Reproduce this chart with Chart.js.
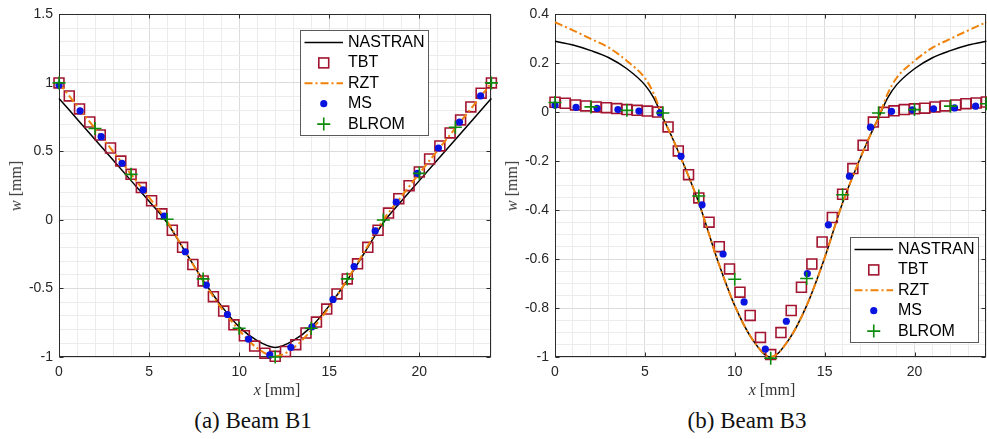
<!DOCTYPE html>
<html>
<head>
<meta charset="utf-8">
<script src="https://cdn.jsdelivr.net/npm/chart.js@4.4.1/dist/chart.umd.min.js"></script>
<style>
  html, body { margin: 0; padding: 0; background: #fff; }
  body { width: 987px; height: 439px; overflow: hidden; position: relative; }
  .plot { position: absolute; top: 0; height: 400px; }
  #wrapB1 { left: 0; width: 500px; }
  #wrapB3 { left: 500px; width: 495px; }
  .lbl { position: absolute; font-family: "Liberation Serif", "Times New Roman", serif; font-size: 16px;
         color: #333; white-space: nowrap; transform: translate(-50%, -50%); }
  .ylbl { transform: translate(-50%, -50%) rotate(-90deg); }
  .cap { position: absolute; font-family: "Liberation Serif", "Times New Roman", serif; font-size: 23px;
         color: #111; white-space: nowrap; transform: translate(-50%, -50%); }
</style>
</head>
<body>
<div class="plot" id="wrapB1"><canvas id="chartB1"></canvas></div>
<div class="plot" id="wrapB3"><canvas id="chartB3"></canvas></div>

<div class="lbl ylbl" style="left:16px; top:186px;"><i>w</i> [mm]</div>
<div class="lbl ylbl" style="left:512px; top:186px;"><i>w</i> [mm]</div>
<div class="lbl" style="left:277px; top:390px;"><i>x</i> [mm]</div>
<div class="lbl" style="left:772px; top:390px;"><i>x</i> [mm]</div>
<div class="cap" style="left:253px; top:421px;">(a) Beam B1</div>
<div class="cap" style="left:747px; top:421px;">(b) Beam B3</div>

<script>
// tick labels
const xMajorTicks = [0, 5, 10, 15, 20];
const b1YTicks = [-1, -0.5, 0, 0.5, 1, 1.5];
const b3YTicks = [-1, -0.8, -0.6, -0.4, -0.2, 0, 0.2, 0.4];

// x positions of each series [mm]
const tbtX = [0, 0.57, 1.14, 1.71, 2.29, 2.86, 3.43, 4.0, 4.57, 5.14, 5.71, 6.29, 6.86, 7.43, 8.0,
  8.57, 9.14, 9.71, 10.29, 10.86, 11.43, 12.0, 12.57, 13.14, 13.71, 14.29, 14.86, 15.43, 16.0,
  16.57, 17.14, 17.71, 18.29, 18.86, 19.43, 20.0, 20.57, 21.14, 21.71, 22.29, 22.86, 23.43, 24.0];
const msX = [0, 1.17, 2.34, 3.5, 4.67, 5.84, 7.01, 8.18, 9.35, 10.52, 11.7, 12.87, 14.04, 15.21,
  16.38, 17.55, 18.72, 19.89, 21.06, 22.23, 23.4];
const blromX = [0, 2, 4, 6, 8, 10, 12, 14, 16, 18, 20, 22, 24];
const b1LineX = [0, 1, 2, 3, 4, 5, 6, 7, 8, 9, 10, 11, 12, 13, 14, 15, 16, 17, 18, 19, 20, 21, 22, 23, 24];
const b3LineX = [0, 1, 2, 3, 4, 5, 5.5, 6, 6.5, 7, 8, 9, 10, 11, 12, 13, 14, 15, 16, 17, 17.5, 18,
  18.5, 19, 20, 21, 22, 23, 24];

// Beam B1, w [mm]
const b1Nastran = [0.887, 0.737, 0.587, 0.437, 0.287, 0.137, -0.02, -0.23, -0.44, -0.625, -0.78, -0.88,
  -0.93, -0.88, -0.78, -0.625, -0.44, -0.23, -0.02, 0.137, 0.287, 0.437, 0.587, 0.737, 0.887];
const b1Tbt = [1.0, 0.905, 0.81, 0.715, 0.62, 0.525, 0.43, 0.333, 0.236, 0.14, 0.045, -0.075, -0.2,
  -0.325, -0.445, -0.56, -0.665, -0.765, -0.845, -0.92, -0.972, -0.995, -0.96, -0.91, -0.825, -0.745,
  -0.65, -0.54, -0.43, -0.32, -0.2, -0.075, 0.05, 0.155, 0.25, 0.35, 0.445, 0.54, 0.635, 0.73, 0.825,
  0.925, 1.0];
const b1Rzt = [1.0, 0.833, 0.667, 0.5, 0.333, 0.165, -0.01, -0.23, -0.445, -0.64, -0.805, -0.935, -0.995,
  -0.935, -0.805, -0.635, -0.435, -0.22, 0.0, 0.17, 0.34, 0.505, 0.67, 0.835, 1.0];
const b1Ms = [0.985, 0.796, 0.608, 0.414, 0.219, 0.029, -0.232, -0.475, -0.69, -0.87, -0.985, -0.93,
  -0.78, -0.58, -0.34, -0.08, 0.13, 0.34, 0.525, 0.715, 0.905];
const b1Blrom = [1.0, 0.667, 0.333, 0.005, -0.43, -0.79, -1.0, -0.79, -0.43, 0.0, 0.34, 0.676, 1.0];

// Beam B3, w [mm]
const b3Nastran = [0.29, 0.275, 0.252, 0.223, 0.178, 0.112, 0.058, -0.022, -0.1, -0.185, -0.37, -0.595,
  -0.79, -0.93, -1.0, -0.93, -0.79, -0.595, -0.37, -0.185, -0.1, -0.022, 0.058, 0.112, 0.178, 0.223,
  0.252, 0.275, 0.29];
const b3Tbt = [0.041, 0.037, 0.03, 0.026, 0.022, 0.019, 0.015, 0.011, 0.008, 0.005, 0.001, -0.06, -0.158,
  -0.255, -0.35, -0.449, -0.549, -0.64, -0.735, -0.83, -0.92, -0.99, -0.9, -0.81, -0.715, -0.62, -0.53,
  -0.43, -0.335, -0.23, -0.135, -0.04, 0.0, 0.006, 0.011, 0.014, 0.017, 0.022, 0.026, 0.03, 0.035,
  0.038, 0.042];
const b3Rzt = [0.368, 0.335, 0.3, 0.264, 0.21, 0.14, 0.075, -0.022, -0.1, -0.185, -0.37, -0.595, -0.79,
  -0.93, -1.0, -0.93, -0.79, -0.595, -0.37, -0.185, -0.1, -0.022, 0.075, 0.14, 0.21, 0.264, 0.3, 0.335,
  0.368];
const b3Ms = [0.029, 0.02, 0.016, 0.011, 0.005, -0.002, -0.18, -0.378, -0.579, -0.775, -0.968, -0.854,
  -0.659, -0.46, -0.261, -0.061, 0.004, 0.01, 0.014, 0.018, 0.025];
const b3Blrom = [0.04, 0.022, 0.008, -0.003, -0.342, -0.682, -1.005, -0.679, -0.337, -0.003, 0.011,
  0.025, 0.035];

const red = '#A2142F';
const orange = '#F0820A';
const blue = '#0a14e0';
const green = '#0b8a0b';
const axisColor = '#2b2b2b';
const tickColor = '#262626';
const majorGrid = '#dcdcdc';
const minorGrid = '#ececec';
const tickFont = { family: '"Liberation Sans", Arial, Helvetica, sans-serif', size: 14 };

function pts(xs, ys) {
  return xs.map((x, i) => ({ x: x, y: ys[i] }));
}

function isMajor(v, list) {
  return list.some(t => Math.abs(t - v) < 1e-6);
}

function fmt(v) {
  return String(Math.round(v * 10) / 10);
}

function makeDatasets(lineX, nastran, rzt, tbt, ms, blrom) {
  return [
    { label: 'NASTRAN', data: pts(lineX, nastran), borderColor: '#000', borderWidth: 1.5,
      pointRadius: 0, cubicInterpolationMode: 'monotone', order: 5, clip: false },
    { label: 'TBT', data: pts(tbtX, tbt), showLine: false, pointStyle: 'rect', pointRadius: 7,
      borderColor: red, pointBorderColor: red, pointBackgroundColor: 'rgba(0,0,0,0)',
      pointBorderWidth: 1.6, order: 4, clip: false },
    { label: 'RZT', data: pts(lineX, rzt), borderColor: orange, borderWidth: 2, borderDash: [8, 3, 2, 3],
      pointRadius: 0, cubicInterpolationMode: 'monotone', order: 3, clip: false },
    { label: 'MS', data: pts(msX, ms), showLine: false, pointStyle: 'circle', pointRadius: 3.6,
      borderColor: blue, pointBorderColor: blue, pointBackgroundColor: blue, pointBorderWidth: 0,
      order: 2, clip: false },
    { label: 'BLROM', data: pts(blromX, blrom), showLine: false, pointStyle: 'cross', pointRadius: 6.5,
      borderColor: green, pointBorderColor: green, pointBorderWidth: 1.6, order: 1, clip: false }
  ];
}

// box round the axes with inward ticks, like matlab
const axesBox = {
  id: 'axesBox',
  beforeDatasetsDraw(chart, args, opts) {
    const { ctx, chartArea: a, scales } = chart;
    const L = Math.round(a.left) + 0.5, R = Math.round(a.right) - 0.5;
    const T = Math.round(a.top) + 0.5, B = Math.round(a.bottom) - 0.5;
    ctx.save();
    ctx.strokeStyle = axisColor;
    ctx.lineWidth = 1;
    ctx.strokeRect(L, T, R - L, B - T);
    ctx.beginPath();
    xMajorTicks.forEach(v => {
      const p = Math.round(scales.x.getPixelForValue(v)) + 0.5;
      ctx.moveTo(p, B); ctx.lineTo(p, B - 4);
      ctx.moveTo(p, T); ctx.lineTo(p, T + 4);
    });
    opts.yTicks.forEach(v => {
      const p = Math.round(scales.y.getPixelForValue(v)) + 0.5;
      ctx.moveTo(L, p); ctx.lineTo(L + 4, p);
      ctx.moveTo(R, p); ctx.lineTo(R - 4, p);
    });
    ctx.stroke();
    ctx.restore();
  }
};

// legend box inside the plot area
const insideLegend = {
  id: 'insideLegend',
  afterDatasetsDraw(chart, args, opts) {
    const { ctx, chartArea: a } = chart;
    const x0 = Math.round(a.left + opts.dx), y0 = Math.round(a.top + opts.dy);
    const w = 128, h = 105;
    ctx.save();
    ctx.fillStyle = '#fff';
    ctx.fillRect(x0, y0, w, h);
    ctx.strokeStyle = '#5a5a5a';
    ctx.lineWidth = 1;
    ctx.strokeRect(x0 + 0.5, y0 + 0.5, w, h);
    ctx.font = '16px "Liberation Sans", Arial, Helvetica, sans-serif';
    ctx.textBaseline = 'middle';
    chart.data.datasets.forEach((ds, i) => {
      const y = y0 + 12.5 + i * 20.4;
      const xs = x0 + 4.5, xe = x0 + 43, xm = (xs + xe) / 2;
      if (ds.showLine !== false) {
        ctx.strokeStyle = ds.borderColor;
        ctx.lineWidth = ds.borderWidth;
        ctx.setLineDash(ds.borderDash || []);
        ctx.beginPath();
        ctx.moveTo(xs, y); ctx.lineTo(xe, y);
        ctx.stroke();
        ctx.setLineDash([]);
      } else if (ds.pointStyle === 'rect') {
        const s = ds.pointRadius * Math.SQRT1_2;
        ctx.strokeStyle = ds.pointBorderColor;
        ctx.lineWidth = ds.pointBorderWidth;
        ctx.strokeRect(xm - s, y - s, 2 * s, 2 * s);
      } else if (ds.pointStyle === 'circle') {
        ctx.fillStyle = ds.pointBackgroundColor;
        ctx.beginPath();
        ctx.arc(xm, y, ds.pointRadius, 0, Math.PI * 2);
        ctx.fill();
      } else if (ds.pointStyle === 'cross') {
        const r = ds.pointRadius;
        ctx.strokeStyle = ds.pointBorderColor;
        ctx.lineWidth = ds.pointBorderWidth;
        ctx.beginPath();
        ctx.moveTo(xm - r, y); ctx.lineTo(xm + r, y);
        ctx.moveTo(xm, y - r); ctx.lineTo(xm, y + r);
        ctx.stroke();
      }
      ctx.fillStyle = '#000';
      ctx.fillText(ds.label, x0 + 48, y);
    });
    ctx.restore();
  }
};

function makeChart(canvasId, datasets, yMin, yMax, yStep, yTicks, yWidth, legendPos) {
  return new Chart(document.getElementById(canvasId), {
    type: 'line',
    data: { datasets: datasets },
    plugins: [axesBox, insideLegend],
    options: {
      responsive: true,
      maintainAspectRatio: false,
      animation: false,
      events: [],
      layout: { padding: { top: 14, right: 4, bottom: 0, left: 0 } },
      scales: {
        x: {
          type: 'linear',
          min: 0,
          max: 24,
          border: { display: false },
          grid: {
            color: c => isMajor(c.tick.value, xMajorTicks) ? majorGrid : minorGrid,
            lineWidth: 1,
            drawTicks: false
          },
          ticks: {
            stepSize: 1,
            autoSkip: false,
            maxRotation: 0,
            padding: 7,
            color: tickColor,
            font: tickFont,
            callback: v => isMajor(v, xMajorTicks) ? fmt(v) : ''
          },
          afterFit: s => { s.height = 43; }
        },
        y: {
          type: 'linear',
          min: yMin,
          max: yMax,
          border: { display: false },
          grid: {
            color: c => isMajor(c.tick.value, yTicks) ? majorGrid : minorGrid,
            lineWidth: 1,
            drawTicks: false
          },
          ticks: {
            stepSize: yStep,
            autoSkip: false,
            padding: 6,
            color: tickColor,
            font: tickFont,
            callback: v => isMajor(v, yTicks) ? fmt(v) : ''
          },
          afterFit: s => { s.width = yWidth; }
        }
      },
      plugins: {
        legend: { display: false },
        tooltip: { enabled: false },
        axesBox: { yTicks: yTicks },
        insideLegend: legendPos
      }
    }
  });
}

makeChart('chartB1', makeDatasets(b1LineX, b1Nastran, b1Rzt, b1Tbt, b1Ms, b1Blrom),
  -1, 1.5, 0.1, b1YTicks, 59, { dx: 241, dy: 16 });
makeChart('chartB3', makeDatasets(b3LineX, b3Nastran, b3Rzt, b3Tbt, b3Ms, b3Blrom),
  -1, 0.4, 0.05, b3YTicks, 55, { dx: 295, dy: 223 });
</script>
</body>
</html>
